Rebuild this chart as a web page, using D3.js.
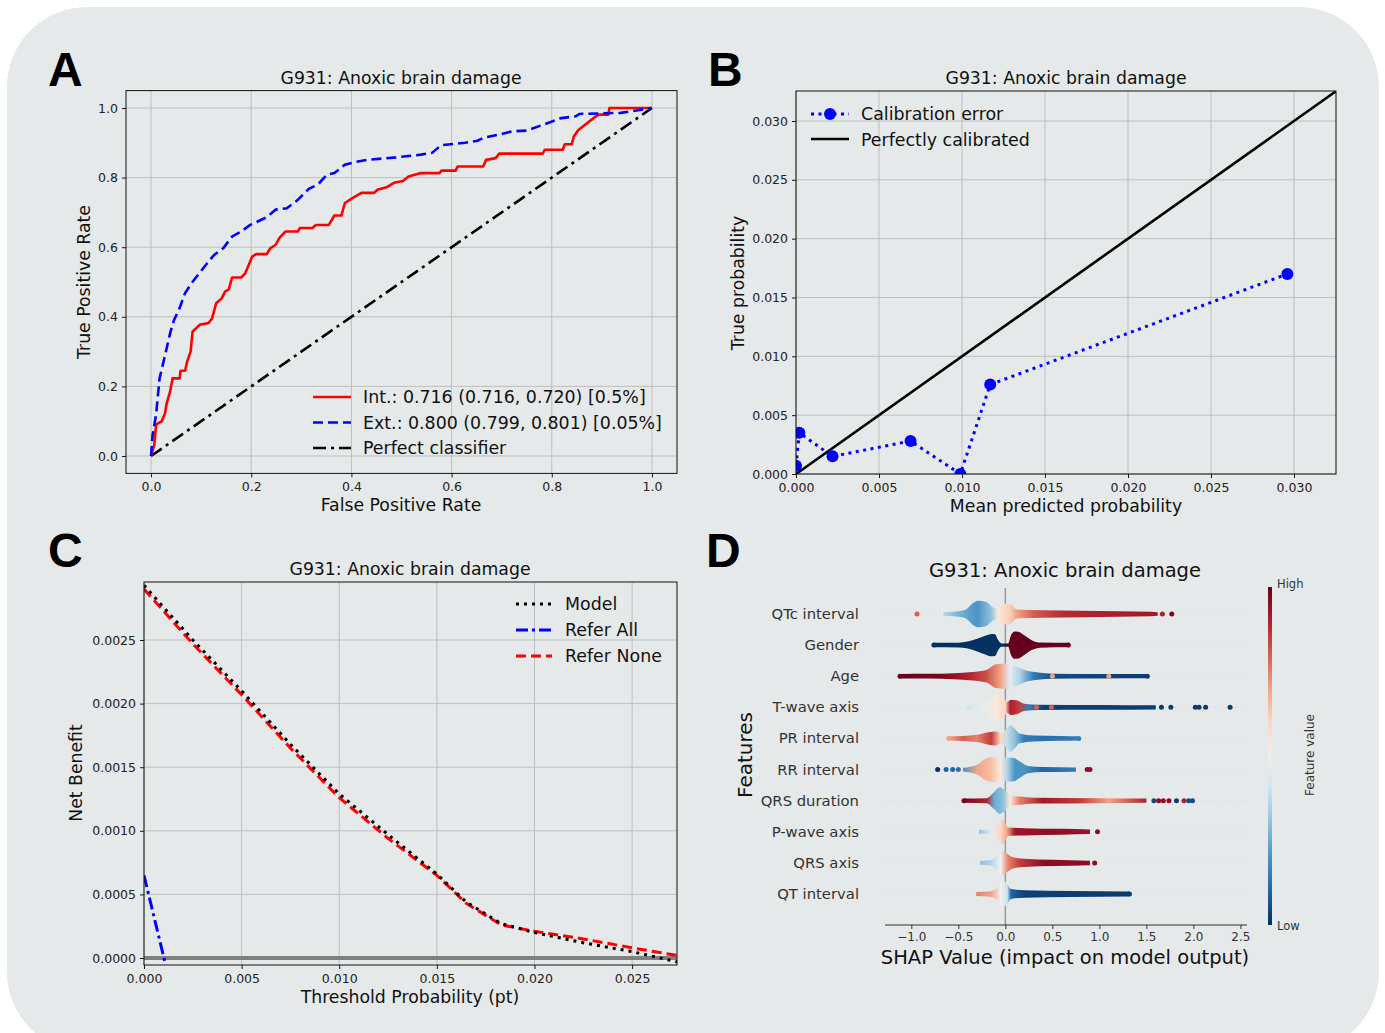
<!DOCTYPE html>
<html><head><meta charset="utf-8">
<script src="https://cdn.jsdelivr.net/npm/d3@7"></script>
<style>
body{margin:0;background:#fff}
text{font-family:"DejaVu Sans",sans-serif}
</style>
</head><body>
<svg id="chart" width="1385" height="1033"></svg>
<script>
// ---------------- DATA ----------------
const panelTitle = "G931: Anoxic brain damage";

// Panel A: ROC
const rocIntFpr = [0,0.0065,0.01,0.014,0.021,0.028,0.031,0.038,0.043,0.057,0.059,0.068,0.072,0.079,0.083,0.09,0.097,0.115,0.122,0.13,0.141,0.148,0.155,0.162,0.18,0.188,0.195,0.202,0.21,0.231,0.238,0.249,0.256,0.268,0.293,0.297,0.322,0.329,0.355,0.366,0.38,0.387,0.402,0.42,0.445,0.452,0.47,0.485,0.503,0.514,0.539,0.576,0.58,0.608,0.612,0.663,0.669,0.688,0.695,0.782,0.786,0.822,0.826,0.84,0.844,0.853,0.888,0.895,0.913,0.915,1.0];
const rocIntTpr = [0,0.032,0.089,0.094,0.099,0.123,0.15,0.185,0.223,0.223,0.245,0.245,0.271,0.30,0.358,0.367,0.377,0.382,0.396,0.439,0.453,0.473,0.478,0.513,0.513,0.525,0.549,0.573,0.58,0.58,0.597,0.607,0.626,0.645,0.645,0.655,0.655,0.664,0.664,0.691,0.691,0.727,0.741,0.756,0.756,0.765,0.772,0.785,0.79,0.803,0.813,0.813,0.82,0.82,0.832,0.832,0.851,0.856,0.869,0.869,0.88,0.88,0.896,0.896,0.918,0.937,0.976,0.981,0.981,1.0,1.0];
const rocExtFpr = [0,0.003,0.01,0.017,0.028,0.039,0.046,0.057,0.068,0.083,0.094,0.112,0.126,0.144,0.162,0.18,0.198,0.216,0.231,0.249,0.271,0.293,0.315,0.333,0.351,0.366,0.387,0.409,0.431,0.489,0.539,0.561,0.579,0.627,0.652,0.663,0.699,0.721,0.75,0.779,0.819,0.848,0.855,0.938,1.0];
const rocExtTpr = [0,0.06,0.118,0.223,0.29,0.358,0.391,0.425,0.468,0.501,0.521,0.554,0.578,0.597,0.631,0.645,0.664,0.676,0.686,0.708,0.712,0.736,0.768,0.78,0.808,0.813,0.837,0.845,0.851,0.858,0.866,0.871,0.893,0.9,0.906,0.914,0.925,0.933,0.935,0.95,0.971,0.976,0.983,0.986,1.0];
const rocLegend = ["Int.: 0.716 (0.716, 0.720) [0.5%]", "Ext.: 0.800 (0.799, 0.801) [0.05%]", "Perfect classifier"];
const rocTicks = [0,0.2,0.4,0.6,0.8,1.0];

// Panel B: calibration
const calMeanPred = [0.0000,0.0002,0.0022,0.0069,0.0099,0.0117,0.0296];
const calTrueProb = [0.0007,0.0035,0.0015,0.0028,0.0000,0.0076,0.0170];
const calTicks = [0,0.005,0.010,0.015,0.020,0.025,0.030];
const calLegend = ["Calibration error", "Perfectly calibrated"];

// Panel C: decision curve
const dcaThreshold = [0,0.0025,0.005,0.0075,0.01,0.0125,0.015,0.0165,0.0183,0.02,0.0225,0.025,0.0273];
const dcaModel     = [0.00293,0.00250,0.00210,0.00168,0.00129,0.00097,0.00066,0.00044,0.00027,0.00020,0.00012,0.00005,-0.00003];
const dcaReferNone = [0.00290,0.00247,0.00207,0.00165,0.00126,0.00094,0.00065,0.00043,0.00026,0.00021,0.00015,0.00008,0.00002];
const dcaAllThreshold = [0,0.0011];
const dcaReferAll  = [0.00065,-0.00005];
const dcaXTicks = [0,0.005,0.010,0.015,0.020,0.025];
const dcaYTicks = [0,0.0005,0.0010,0.0015,0.0020,0.0025];
const dcaLegend = ["Model","Refer All","Refer None"];

// Panel D: SHAP summary
const shapFeatures = ["QTc interval","Gender","Age","T-wave axis","PR interval","RR interval","QRS duration","P-wave axis","QRS axis","QT interval"];
const shapTicks = [-1.0,-0.5,0.0,0.5,1.0,1.5,2.0,2.5];
// body profile: [shap value, relative half-width]
const shapProfiles = [
  [[-0.66,0.13],[-0.5,0.2],[-0.42,0.32],[-0.35,0.75],[-0.29,0.95],[-0.2,0.85],[-0.14,0.5],[-0.1,0.4],[-0.06,0.65],[0.0,0.75],[0.06,0.7],[0.1,0.4],[0.15,0.3],[0.4,0.26],[0.8,0.23],[1.2,0.19],[1.55,0.16],[1.62,0.13]],
  [[-0.76,0.16],[-0.5,0.17],[-0.4,0.25],[-0.3,0.45],[-0.2,0.7],[-0.15,0.8],[-0.11,0.78],[-0.08,0.4],[-0.04,0.12],[0.03,0.12],[0.06,0.7],[0.1,0.98],[0.14,0.95],[0.2,0.7],[0.28,0.35],[0.37,0.18],[0.67,0.16]],
  [[-1.12,0.16],[-0.8,0.17],[-0.55,0.21],[-0.35,0.3],[-0.2,0.45],[-0.1,0.85],[0.0,0.9],[0.08,0.8],[0.15,0.6],[0.22,0.4],[0.35,0.26],[0.5,0.18],[1.0,0.16],[1.5,0.15]],
  [[-0.41,0.13],[-0.3,0.16],[-0.2,0.25],[-0.15,0.7],[-0.08,0.95],[-0.03,0.8],[0.02,0.4],[0.06,0.55],[0.12,0.5],[0.2,0.26],[0.35,0.19],[1.0,0.17],[1.6,0.15]],
  [[-0.6,0.15],[-0.45,0.18],[-0.3,0.26],[-0.18,0.45],[-0.1,0.5],[-0.03,0.35],[0.0,0.6],[0.05,0.95],[0.1,0.7],[0.15,0.35],[0.3,0.21],[0.6,0.17],[0.77,0.15]],
  [[-0.45,0.13],[-0.3,0.35],[-0.2,0.8],[-0.12,0.9],[-0.04,0.7],[0.0,0.85],[0.08,0.85],[0.15,0.6],[0.24,0.26],[0.4,0.18],[0.75,0.15]],
  [[-0.44,0.15],[-0.2,0.18],[-0.12,0.6],[-0.06,0.95],[0.0,0.7],[0.05,0.35],[0.15,0.3],[0.3,0.21],[1.0,0.18],[1.5,0.15]],
  [[-0.28,0.14],[-0.15,0.17],[-0.08,0.5],[-0.03,0.9],[0.0,0.6],[0.03,0.3],[0.2,0.26],[0.6,0.21],[0.9,0.16]],
  [[-0.27,0.14],[-0.15,0.2],[-0.08,0.55],[-0.02,0.85],[0.03,0.6],[0.08,0.4],[0.2,0.3],[0.5,0.23],[0.9,0.16]],
  [[-0.31,0.14],[-0.15,0.2],[-0.08,0.5],[-0.02,0.95],[0.02,0.7],[0.06,0.35],[0.2,0.26],[0.7,0.21],[1.32,0.17]]
];
// feature-value colour along the body: [shap value, feature value 0..1]
const shapColors = [
  [[-0.66,0.35],[-0.45,0.25],[-0.3,0.2],[-0.15,0.3],[-0.08,0.55],[0.05,0.62],[0.12,0.7],[0.3,0.8],[0.6,0.88],[1.0,0.9],[1.62,0.92]],
  [[-0.76,0],[0.0,0],[0.001,1],[0.67,1]],
  [[-1.12,1],[-0.7,0.98],[-0.4,0.9],[-0.2,0.82],[-0.05,0.7],[0.05,0.45],[0.15,0.35],[0.3,0.15],[0.5,0.05],[1.5,0.02]],
  [[-0.41,0.4],[-0.25,0.45],[-0.1,0.55],[0.0,0.6],[0.05,0.9],[0.15,0.85],[0.25,0.15],[0.4,0.03],[1.6,0.02]],
  [[-0.6,0.7],[-0.45,0.8],[-0.3,0.75],[-0.15,0.85],[-0.05,0.6],[0.02,0.38],[0.1,0.3],[0.2,0.15],[0.4,0.12],[0.77,0.15]],
  [[-0.45,0.2],[-0.3,0.7],[-0.15,0.65],[-0.05,0.55],[0.02,0.35],[0.1,0.2],[0.2,0.2],[0.4,0.1],[0.75,0.15]],
  [[-0.44,0.98],[-0.2,0.9],[-0.12,0.25],[-0.02,0.3],[0.05,0.55],[0.15,0.75],[0.4,0.92],[0.8,0.85],[1.1,0.7],[1.5,0.9]],
  [[-0.28,0.3],[-0.15,0.45],[-0.05,0.6],[0.02,0.7],[0.1,0.92],[0.5,0.95],[0.9,0.93]],
  [[-0.27,0.3],[-0.15,0.35],[-0.05,0.5],[0.03,0.75],[0.15,0.85],[0.4,0.95],[0.9,0.95]],
  [[-0.31,0.75],[-0.15,0.7],[-0.05,0.5],[0.02,0.4],[0.06,0.1],[0.2,0.03],[1.32,0.02]]
];
// isolated points: [shap value, feature value]
const shapDots = [
  [[-0.94,0.8],[1.67,0.9],[1.77,0.97]],
  [[-0.76,0],[0.67,1]],
  [[-1.12,1],[0.5,0.7],[1.1,0.7],[1.51,0.02]],
  [[0.33,0.8],[0.49,0.8],[1.66,0.02],[1.76,0.02],[2.02,0.02],[2.06,0.02],[2.13,0.02],[2.39,0.02]],
  [[-0.6,0.7],[0.78,0.15]],
  [[-0.72,0],[-0.63,0.1],[-0.56,0.1],[-0.5,0.12],[0.87,0.95],[0.9,0.95]],
  [[-0.44,0.98],[1.58,0.05],[1.63,0.95],[1.68,0.95],[1.74,0.95],[1.82,0.02],[1.9,0.9],[1.95,0.05],[1.99,0.05]],
  [[0.98,0.95]],
  [[0.95,0.95]],
  [[1.32,0.02]]
];

// ---------------- DRAW ----------------
const svg = d3.select("#chart");
const defs = svg.append("defs");
const GRID = "#bcbfc1";
const BG = "#e6e9e9";
const FS = "17.3px";

svg.append("rect").attr("x",7).attr("y",7).attr("width",1372).attr("height",1045)
  .attr("rx",80).attr("ry",80).attr("fill",BG);

function styleAxis(g, size, color){
  g.select(".domain").remove();
  g.selectAll(".tick line").attr("stroke","#000").attr("stroke-width",0.9);
  g.selectAll(".tick text").attr("font-size",size).attr("fill",color)
    .attr("font-family",'"DejaVu Sans",sans-serif');
}

function makeAxes(id, x, y, xTicks, yTicks, xFmt, yFmt){
  const [xl,xr] = x.range(), [yb,yt] = y.range();
  const g = svg.append("g");
  defs.append("clipPath").attr("id",id).append("rect")
    .attr("x",xl).attr("y",yt).attr("width",xr-xl).attr("height",yb-yt);
  g.selectAll(".gx").data(xTicks).join("line")
    .attr("x1",d=>x(d)).attr("x2",d=>x(d)).attr("y1",yt).attr("y2",yb)
    .attr("stroke",GRID).attr("stroke-width",1);
  g.selectAll(".gy").data(yTicks).join("line")
    .attr("y1",d=>y(d)).attr("y2",d=>y(d)).attr("x1",xl).attr("x2",xr)
    .attr("stroke",GRID).attr("stroke-width",1);
  const ax = g.append("g").attr("transform",`translate(0,${yb})`)
    .call(d3.axisBottom(x).tickValues(xTicks).tickFormat(xFmt).tickSize(4).tickPadding(5));
  styleAxis(ax,"12.5px","#222");
  const ay = g.append("g").attr("transform",`translate(${xl},0)`)
    .call(d3.axisLeft(y).tickValues(yTicks).tickFormat(yFmt).tickSize(4).tickPadding(4));
  styleAxis(ay,"12.5px","#222");
  const plot = svg.append("g").attr("clip-path",`url(#${id})`);
  const frame = () => svg.append("rect").attr("x",xl).attr("y",yt).attr("width",xr-xl).attr("height",yb-yt)
    .attr("fill","none").attr("stroke","#111").attr("stroke-width",1);
  return {plot, frame};
}

function label(txt, x, y, size, opts={}){
  const t = svg.append("text").attr("x",x).attr("y",y).attr("font-size",size)
    .attr("text-anchor",opts.anchor||"middle").attr("fill",opts.fill||"#111").text(txt);
  if(opts.rotate) t.attr("x",0).attr("y",0).attr("transform",`translate(${x},${y}) rotate(-90)`);
  if(opts.weight) t.attr("font-weight",opts.weight);
  if(opts.family) t.style("font-family",opts.family);
  return t;
}

// panel letters
[["A",48,86],["B",708,86],["C",48,567],["D",706,567]].forEach(([l,x,y])=>
  label(l,x,y,"48px",{anchor:"start",weight:"bold",family:'"Liberation Sans",Arial,sans-serif',fill:"#000"}));

// ---------- Panel A ----------
{
  const x = d3.scaleLinear([-0.05,1.05],[126,677]);
  const y = d3.scaleLinear([-0.05,1.05],[473.4,90.6]);
  const {plot, frame} = makeAxes("clipA", x, y, rocTicks, rocTicks, d3.format(".1f"), d3.format(".1f"));
  const line = d3.line().x(d=>x(d[0])).y(d=>y(d[1]));
  plot.append("path").datum([[0,0],[1,1]]).attr("d",line).attr("fill","none")
    .attr("stroke","#000").attr("stroke-width",2.6).attr("stroke-dasharray","13,5,3,5");
  plot.append("path").datum(rocIntFpr.map((f,i)=>[f,rocIntTpr[i]])).attr("d",line).attr("fill","none")
    .attr("stroke","#ff0000").attr("stroke-width",2.6).attr("stroke-linejoin","round");
  plot.append("path").datum(rocExtFpr.map((f,i)=>[f,rocExtTpr[i]])).attr("d",line).attr("fill","none")
    .attr("stroke","#0000ff").attr("stroke-width",2.6).attr("stroke-dasharray","10,5");
  frame();
  label(panelTitle, 401, 84, FS);
  label("False Positive Rate", 401, 511, FS);
  label("True Positive Rate", 90, 282, FS, {rotate:true});
  const styles = [{c:"#ff0000",d:null},{c:"#0000ff",d:"10,5"},{c:"#000",d:"13,5,3,5"}];
  rocLegend.forEach((t,i)=>{
    const yy = 397 + i*25.5;
    const l = svg.append("line").attr("x1",313).attr("x2",351).attr("y1",yy).attr("y2",yy)
      .attr("stroke",styles[i].c).attr("stroke-width",2.6);
    if(styles[i].d) l.attr("stroke-dasharray",styles[i].d);
    label(t, 363, yy+6, "17.4px", {anchor:"start"});
  });
}

// ---------- Panel B ----------
{
  const x = d3.scaleLinear([0,0.03253],[796,1336]);
  const y = d3.scaleLinear([0,0.03255],[474,91]);
  const {plot, frame} = makeAxes("clipB", x, y, calTicks, calTicks, d3.format(".3f"), d3.format(".3f"));
  const line = d3.line().x(d=>x(d[0])).y(d=>y(d[1]));
  plot.append("path").datum([[0,0],[0.0326,0.0326]]).attr("d",line).attr("fill","none")
    .attr("stroke","#000").attr("stroke-width",2.6);
  const pts = calMeanPred.map((m,i)=>[m,calTrueProb[i]]);
  plot.append("path").datum(pts).attr("d",line).attr("fill","none")
    .attr("stroke","#0000ff").attr("stroke-width",3).attr("stroke-dasharray","3,4.5");
  plot.selectAll("circle").data(pts).join("circle")
    .attr("cx",d=>x(d[0])).attr("cy",d=>y(d[1])).attr("r",6).attr("fill","#0000ff");
  frame();
  label(panelTitle, 1066, 84, FS);
  label("Mean predicted probability", 1066, 512, FS);
  label("True probability", 744, 283, FS, {rotate:true});
  // legend
  svg.append("line").attr("x1",811).attr("x2",849).attr("y1",114).attr("y2",114)
    .attr("stroke","#0000ff").attr("stroke-width",3).attr("stroke-dasharray","3,4.5");
  svg.append("circle").attr("cx",830).attr("cy",114).attr("r",6).attr("fill","#0000ff");
  svg.append("line").attr("x1",811).attr("x2",849).attr("y1",139).attr("y2",139)
    .attr("stroke","#000").attr("stroke-width",2.6);
  label(calLegend[0], 861, 120, "17.4px", {anchor:"start"});
  label(calLegend[1], 861, 145.5, "17.4px", {anchor:"start"});
}

// ---------- Panel C ----------
{
  const x = d3.scaleLinear([0,0.0273],[144,677]);
  const y = d3.scaleLinear([-0.000055,0.002956],[965,582]);
  const {plot, frame} = makeAxes("clipC", x, y, dcaXTicks, dcaYTicks, d3.format(".3f"), d3.format(".4f"));
  const line = d3.line().x(d=>x(d[0])).y(d=>y(d[1]));
  plot.append("line").attr("x1",144).attr("x2",677).attr("y1",y(0)).attr("y2",y(0))
    .attr("stroke","#808080").attr("stroke-width",4);
  plot.append("path").datum(dcaAllThreshold.map((t,i)=>[t,dcaReferAll[i]])).attr("d",line).attr("fill","none")
    .attr("stroke","#0000ff").attr("stroke-width",3).attr("stroke-dasharray","12,4,3,4");
  plot.append("path").datum(dcaThreshold.map((t,i)=>[t,dcaReferNone[i]])).attr("d",line).attr("fill","none")
    .attr("stroke","#ff0000").attr("stroke-width",3).attr("stroke-dasharray","10,5");
  plot.append("path").datum(dcaThreshold.map((t,i)=>[t,dcaModel[i]])).attr("d",line).attr("fill","none")
    .attr("stroke","#000").attr("stroke-width",3).attr("stroke-dasharray","3,5");
  frame();
  label(panelTitle, 410, 575, FS);
  label("Threshold Probability (pt)", 410, 1003, FS);
  label("Net Benefit", 82, 773, FS, {rotate:true});
  const st = [{c:"#000",d:"3,5"},{c:"#0000ff",d:"12,4,3,4"},{c:"#ff0000",d:"10,5"}];
  dcaLegend.forEach((t,i)=>{
    const yy = 604 + i*26;
    svg.append("line").attr("x1",516).attr("x2",552).attr("y1",yy).attr("y2",yy)
      .attr("stroke",st[i].c).attr("stroke-width",3).attr("stroke-dasharray",st[i].d);
    label(t, 565, yy+6, "17.4px", {anchor:"start"});
  });
}

// ---------- Panel D ----------
{
  const x = d3.scaleLinear([-1.28,2.57],[885,1247]);
  const rowY = d3.scalePoint().domain(shapFeatures).range([614,894]);
  const cmap = v => d3.interpolateRdBu(1 - v);
  const half = 14;
  const g = svg.append("g");
  g.selectAll(".row").data(shapFeatures).join("line")
    .attr("x1",885).attr("x2",1247).attr("y1",d=>rowY(d)).attr("y2",d=>rowY(d))
    .attr("stroke","#cccccc").attr("stroke-width",0.6).attr("stroke-dasharray","1,4");
  g.append("line").attr("x1",x(0)).attr("x2",x(0)).attr("y1",588).attr("y2",925)
    .attr("stroke","#999").attr("stroke-width",1.5);
  shapFeatures.forEach((f,i)=>{
    const yc = rowY(f);
    const prof = shapProfiles[i], cols = shapColors[i];
    const x0 = x(cols[0][0]), x1 = x(cols[cols.length-1][0]);
    const gr = defs.append("linearGradient").attr("id","sg"+i).attr("gradientUnits","userSpaceOnUse")
      .attr("x1",x0).attr("x2",x1).attr("y1",0).attr("y2",0);
    cols.forEach(([s,v])=>gr.append("stop").attr("offset",(x(s)-x0)/(x1-x0)).attr("stop-color",cmap(v)));
    const area = d3.area().x(d=>x(d[0])).y0(d=>yc - d[1]*half).y1(d=>yc + d[1]*half).curve(d3.curveMonotoneX);
    g.append("path").datum(prof).attr("d",area).attr("fill",`url(#sg${i})`);
    g.selectAll(".d"+i).data(shapDots[i]).join("circle")
      .attr("cx",d=>x(d[0])).attr("cy",yc).attr("r",2.5).attr("fill",d=>cmap(d[1]));
    label(f, 859, yc+5, "14.8px", {anchor:"end", fill:"#333"});
  });
  const ax = svg.append("g").attr("transform","translate(0,925)")
    .call(d3.axisBottom(x).tickValues(shapTicks).tickFormat(d3.format(".1f")).tickSize(4).tickPadding(3));
  ax.select(".domain").attr("stroke","#333").attr("d","M885,0H1247");
  ax.selectAll(".tick line").attr("stroke","#333");
  ax.selectAll(".tick text").attr("font-size","12px").attr("fill","#333");
  label(panelTitle, 1065, 577, "19.5px");
  label("SHAP Value (impact on model output)", 1065, 964, "19.5px");
  label("Features", 752, 755, "20px", {rotate:true});
  const cb = defs.append("linearGradient").attr("id","cbar").attr("x1",0).attr("x2",0).attr("y1",0).attr("y2",1);
  d3.range(0,1.0001,0.1).forEach(t=>cb.append("stop").attr("offset",t).attr("stop-color",cmap(1-t)));
  svg.append("rect").attr("x",1268).attr("y",587).attr("width",4).attr("height",338).attr("fill","url(#cbar)");
  label("High", 1277, 588, "11.5px", {anchor:"start", fill:"#333"});
  label("Low", 1277, 930, "11.5px", {anchor:"start", fill:"#333"});
  label("Feature value", 1314, 755, "12px", {rotate:true, fill:"#333"});
}
</script>
</body></html>
